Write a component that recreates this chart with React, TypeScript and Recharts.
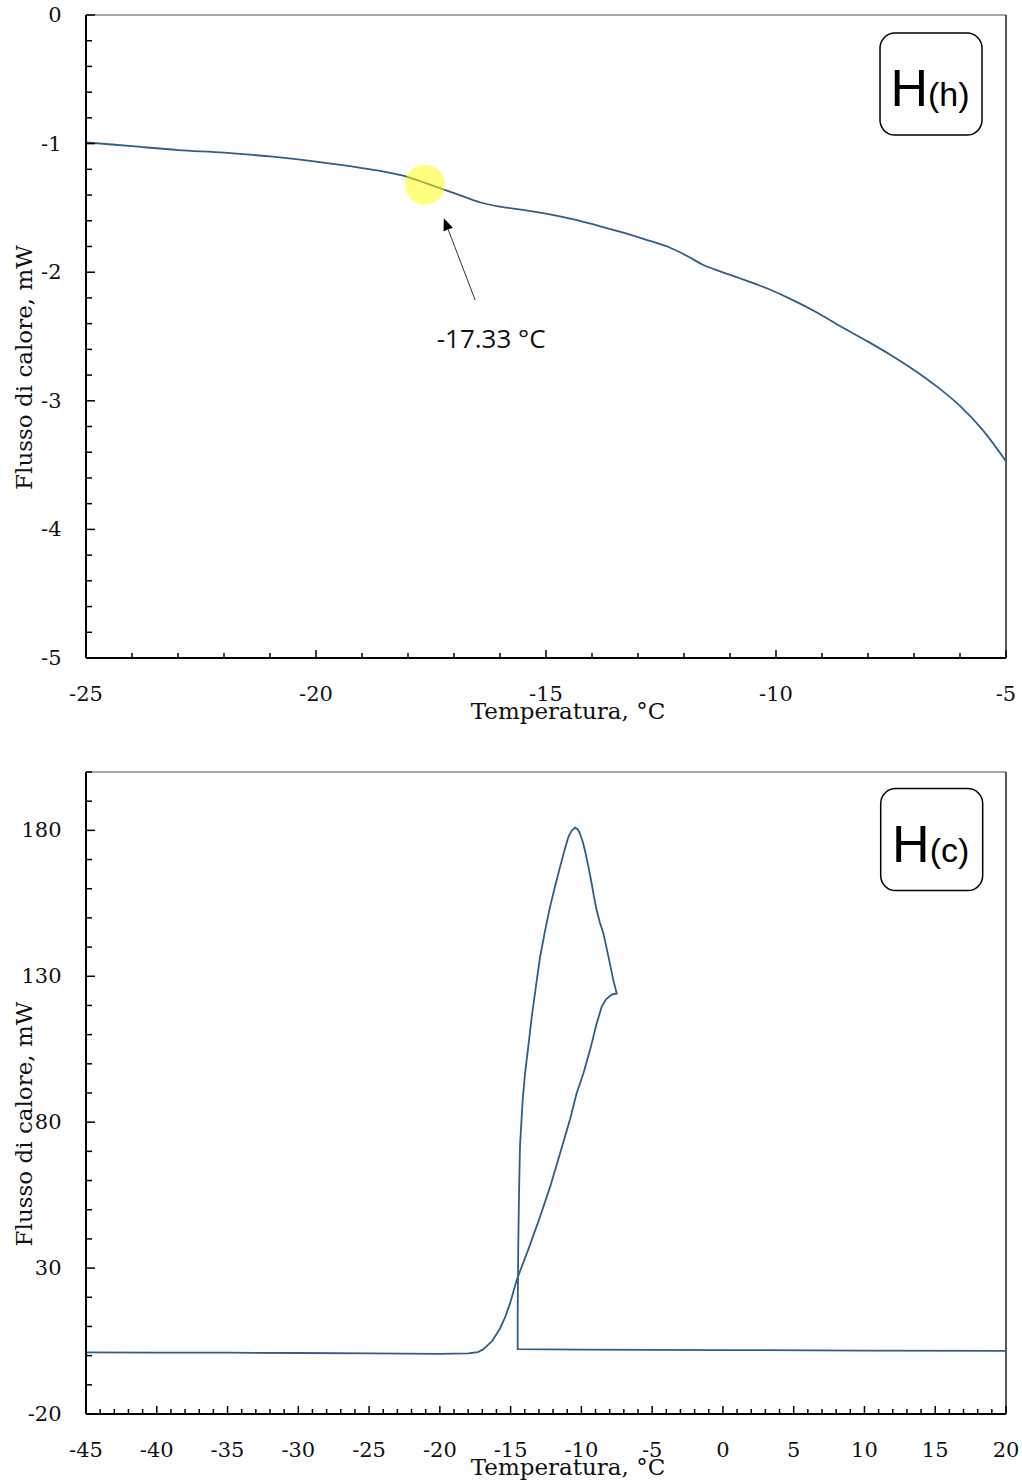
import React from 'react';
import { LineChart, Line, XAxis, YAxis, ReferenceLine, ReferenceDot, Label } from 'recharts';

// Heating scan H(h): temperature (°C) and heat flow (mW)
const heatingTemp = [
  -25, -24, -23, -22, -21, -20, -19, -18.5, -18, -17.6, -17.2, -16.8, -16.4, -16, -15.5, -15,
  -14.4, -13.8, -13.3, -12.8, -12.3, -11.9, -11.6, -11.2, -10.8, -10.2, -9.7, -9.1, -8.6, -8.0,
  -7.5, -7.0, -6.5, -6.0, -5.5, -5,
];
const heatingFlow = [
  -0.99, -1.02, -1.05, -1.07, -1.10, -1.14, -1.19, -1.22, -1.26, -1.31, -1.36, -1.41, -1.46, -1.49, -1.515, -1.545,
  -1.59, -1.645, -1.695, -1.75, -1.81, -1.88, -1.94, -1.995, -2.045, -2.125, -2.205, -2.315, -2.42, -2.54,
  -2.645, -2.76, -2.89, -3.04, -3.23, -3.47,
];

// Cooling scan H(c), in acquisition order (from +20 °C downwards, through the freezing loop)
const coolingTemp = [
  20, 10, 0, -10, -14.5, -14.5, -14.46, -14.41, -14.34, -14.15, -13.98, -13.75, -13.51, -13.2, -12.92,
  -12.55, -12.22, -11.85, -11.51, -11.2, -10.92, -10.7, -10.45, -10.25, -10.1, -9.9, -9.75, -9.5, -9.27,
  -9.1, -8.92, -8.7, -8.44, -8.1, -7.74, -7.5, -7.86, -8.26, -8.57, -8.92, -9.39, -9.86, -10.34, -10.8,
  -11.51, -12.2, -12.92, -13.7, -14.57, -15.04, -15.4, -15.75, -16.3, -16.93, -17.3, -18, -20, -25, -30,
  -35, -40, -45,
];
const coolingFlow = [
  1.6, 1.75, 1.9, 2.05, 2.2, 14.5, 37.3, 54.4, 71.5, 87.5, 96.7, 106, 116, 127, 136.6,
  146, 153.7, 161, 167.4, 173, 177.7, 179.8, 180.9, 180.3, 178.9, 176, 173.2, 167.5, 161.7,
  157, 152.6, 148.5, 144.6, 137, 128.6, 124.1, 123.7, 122.1, 119.5, 113.8, 104.7, 96.7, 89.8, 81,
  69.3, 58, 47.6, 37, 25.9, 17.9, 13, 9.3, 5, 2.2, 1.2, 0.8, 0.6, 0.8, 0.9,
  1.0, 1.05, 1.1,
];

// Labelled (major) ticks
const heatingXLabels = [-25, -20, -15, -10, -5];
const heatingYLabels = [-5, -4, -3, -2, -1, 0];
const coolingXLabels = [-45, -40, -35, -30, -25, -20, -15, -10, -5, 0, 5, 10, 15, 20];
const coolingYLabels = [-20, 30, 80, 130, 180];

// Annotations
const onsetTemp = -17.63;
const onsetFlow = -1.32;
const onsetText = '-17.33 °C';
const arrowTail = { x: -16.54, y: -2.216 };
const arrowTip = { x: -17.22, y: -1.581 };
const heatingTag = { x: -6.63, y: -0.537, main: 'H', sub: '(h)' };
const coolingTag = { x: 14.75, y: 176.85, main: 'H', sub: '(c)' };

const LINE_COLOR = '#2F5D8C';
const SERIF = '"DejaVu Serif", serif';

function stepTicks(start: number, end: number, step: number): number[] {
  const out: number[] = [];
  const n = Math.round((end - start) / step);
  for (let i = 0; i <= n; i++) out.push(Math.round((start + i * step) * 1000) / 1000);
  return out;
}

const isIn = (list: number[], v: number) => list.some((l) => Math.abs(l - v) < 1e-6);

function makeXTick(labels: number[]) {
  return (props: any) => {
    const { x, y, payload } = props;
    const v = payload.value;
    const major = isIn(labels, v);
    return (
      <g>
        <line x1={x} x2={x} y1={y} y2={y - (major ? 8 : 5)} stroke="#000" strokeWidth={1.5} />
        {major && (
          <text x={x} y={y + 43} textAnchor="middle" fontFamily={SERIF} fontSize={21} fill="#111">
            {String(v)}
          </text>
        )}
      </g>
    );
  };
}

function makeYTick(labels: number[]) {
  return (props: any) => {
    const { x, y, payload } = props;
    const v = payload.value;
    const major = isIn(labels, v);
    return (
      <g>
        <line x1={x} x2={x + (major ? 9 : 6)} y1={y} y2={y} stroke="#000" strokeWidth={1.5} />
        {major && (
          <text x={x - 24.5} y={y + 7} textAnchor="end" fontFamily={SERIF} fontSize={21} fill="#111">
            {String(v)}
          </text>
        )}
      </g>
    );
  };
}

const xTitle = (props: any) => {
  const { viewBox } = props;
  return (
    <text
      x={viewBox.x + viewBox.width / 2 + 22}
      y={viewBox.y + 61}
      textAnchor="middle"
      fontFamily={SERIF}
      fontSize={23}
      fill="#111"
    >
      Temperatura, °C
    </text>
  );
};

const yTitle = (props: any) => {
  const { viewBox } = props;
  const cx = 32;
  const cy = viewBox.y + viewBox.height / 2 + 31;
  return (
    <text
      x={cx}
      y={cy}
      transform={`rotate(-90 ${cx} ${cy})`}
      textAnchor="middle"
      fontFamily={SERIF}
      fontSize={23}
      fill="#111"
    >
      Flusso di calore, mW
    </text>
  );
};

const ArrowShape = (props: any) => {
  const { x1, y1, x2, y2 } = props;
  const dx = x2 - x1;
  const dy = y2 - y1;
  const len = Math.hypot(dx, dy) || 1;
  const ux = dx / len;
  const uy = dy / len;
  const hl = 12;
  const hw = 5;
  const bx = x2 - ux * hl;
  const by = y2 - uy * hl;
  const pts = `${x2},${y2} ${bx - uy * hw},${by + ux * hw} ${bx + uy * hw},${by - ux * hw}`;
  return (
    <g>
      <line x1={x1} y1={y1} x2={bx} y2={by} stroke="#333" strokeWidth={1} />
      <polygon points={pts} fill="#000" />
      <text
        x={x1 + 16}
        y={y1 + 48}
        textAnchor="middle"
        fontFamily='"Open Sans", "Noto Sans", sans-serif'
        fontSize={26}
        fill="#111"
      >
        {onsetText}
      </text>
    </g>
  );
};

function makeTag(main: string, sub: string) {
  return (props: any) => {
    const { cx, cy } = props;
    return (
      <g>
        <rect x={cx - 51} y={cy - 51} width={102} height={102} rx={15} ry={15} fill="#fff" stroke="#000" strokeWidth={1.5} />
        <text x={cx - 1} y={cy + 22} textAnchor="middle" fontFamily='"Liberation Sans", Arial, sans-serif' fill="#000">
          <tspan fontSize={52}>{main}</tspan>
          <tspan fontSize={34}>{sub}</tspan>
        </text>
      </g>
    );
  };
}

const heatingData = heatingTemp.map((t, i) => ({ t, q: heatingFlow[i] }));
const coolingData = coolingTemp.map((t, i) => ({ t, q: coolingFlow[i] }));

export default function App() {
  return (
    <div style={{ position: 'absolute', left: 0, top: 0, width: 1022, height: 1481, background: '#fff' }}>
      <div style={{ position: 'absolute', left: 0, top: 0 }}>
        <LineChart width={1022} height={740} data={heatingData} margin={{ top: 15, right: 16, bottom: 0, left: 0 }}>
          <XAxis
            type="number"
            dataKey="t"
            domain={[-25, -5]}
            ticks={stepTicks(-25, -5, 1)}
            interval={0}
            tickSize={0}
            tickMargin={0}
            tickLine={false}
            tick={makeXTick(heatingXLabels)}
            axisLine={{ stroke: '#000', strokeWidth: 2 }}
            height={82}
            allowDataOverflow
          >
            <Label content={xTitle} />
          </XAxis>
          <YAxis
            type="number"
            domain={[-5, 0]}
            ticks={stepTicks(-5, 0, 0.2)}
            interval={0}
            tickSize={0}
            tickMargin={0}
            tickLine={false}
            tick={makeYTick(heatingYLabels)}
            axisLine={{ stroke: '#000', strokeWidth: 2 }}
            width={86}
            allowDataOverflow
          >
            <Label content={yTitle} />
          </YAxis>
          <ReferenceLine y={0} stroke="#8a8a8a" strokeWidth={1.5} />
          <ReferenceLine x={-5} stroke="#222" strokeWidth={1.5} />
          <Line
            type="monotone"
            dataKey="q"
            stroke={LINE_COLOR}
            strokeWidth={1.8}
            dot={false}
            isAnimationActive={false}
          />
          <ReferenceDot x={onsetTemp} y={onsetFlow} r={20} fill="#ffff00" fillOpacity={0.5} stroke="none" />
          <ReferenceLine segment={[arrowTail, arrowTip]} shape={ArrowShape} />
          <ReferenceDot x={heatingTag.x} y={heatingTag.y} r={51} shape={makeTag(heatingTag.main, heatingTag.sub)} />
        </LineChart>
      </div>
      <div style={{ position: 'absolute', left: 0, top: 740 }}>
        <LineChart width={1022} height={741} data={coolingData} margin={{ top: 32, right: 16, bottom: 0, left: 0 }}>
          <XAxis
            type="number"
            dataKey="t"
            domain={[-45, 20]}
            ticks={stepTicks(-45, 20, 1)}
            interval={0}
            tickSize={0}
            tickMargin={0}
            tickLine={false}
            tick={makeXTick(coolingXLabels)}
            axisLine={{ stroke: '#000', strokeWidth: 2 }}
            height={67}
            allowDataOverflow
          >
            <Label content={xTitle} />
          </XAxis>
          <YAxis
            type="number"
            domain={[-20, 200]}
            ticks={stepTicks(-20, 200, 10)}
            interval={0}
            tickSize={0}
            tickMargin={0}
            tickLine={false}
            tick={makeYTick(coolingYLabels)}
            axisLine={{ stroke: '#000', strokeWidth: 2 }}
            width={86}
            allowDataOverflow
          >
            <Label content={yTitle} />
          </YAxis>
          <ReferenceLine y={200} stroke="#8a8a8a" strokeWidth={1.5} />
          <ReferenceLine x={20} stroke="#222" strokeWidth={1.5} />
          <Line
            type="linear"
            dataKey="q"
            stroke={LINE_COLOR}
            strokeWidth={1.8}
            dot={false}
            isAnimationActive={false}
          />
          <ReferenceDot x={coolingTag.x} y={coolingTag.y} r={51} shape={makeTag(coolingTag.main, coolingTag.sub)} />
        </LineChart>
      </div>
    </div>
  );
}
